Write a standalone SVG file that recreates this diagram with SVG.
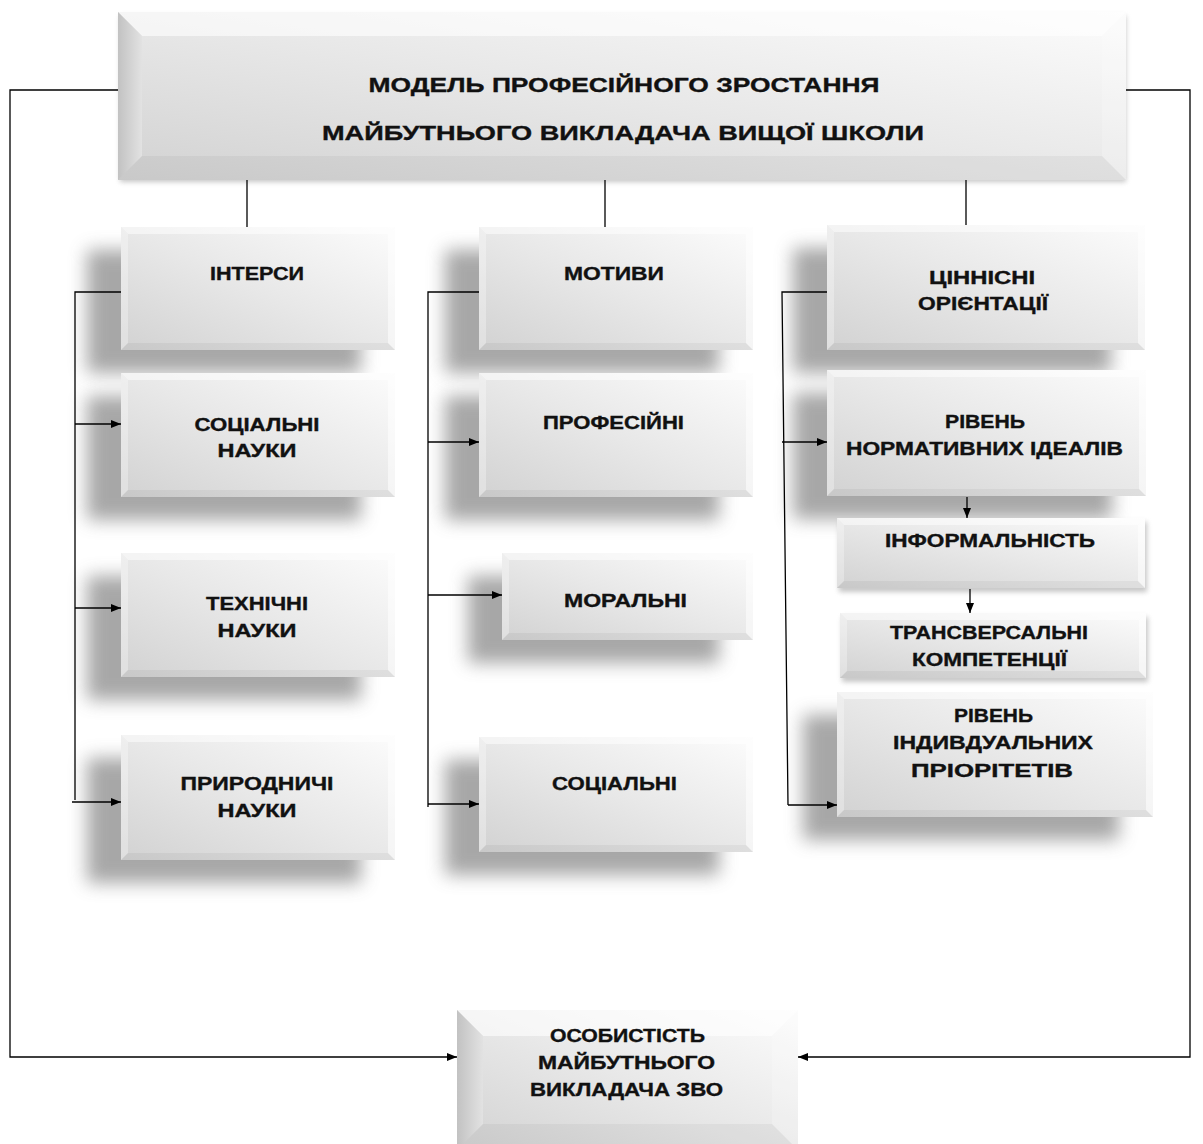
<svg xmlns="http://www.w3.org/2000/svg" width="1203" height="1144" viewBox="0 0 1203 1144">
<defs>
<linearGradient id="gBody" x1="1" y1="0" x2="0" y2="1">
<stop offset="0" stop-color="#fcfcfc"/>
<stop offset="0.5" stop-color="#e8e8e8"/>
<stop offset="1" stop-color="#d2d2d2"/>
</linearGradient>
<linearGradient id="gLeft" x1="0" y1="0" x2="1" y2="0">
<stop offset="0" stop-color="#c2c2c2"/>
<stop offset="1" stop-color="#e2e2e2"/>
</linearGradient>
<filter id="fSh" x="-30%" y="-40%" width="160%" height="180%">
<feGaussianBlur stdDeviation="9"/>
</filter>
<filter id="fSh2" x="-10%" y="-30%" width="120%" height="160%">
<feGaussianBlur stdDeviation="2.5"/>
</filter>
<marker id="arr" markerUnits="userSpaceOnUse" markerWidth="11" markerHeight="9" refX="10" refY="4.5" orient="auto">
<path d="M0,0.5 L10,4.5 L0,8.5 z" fill="#000"/>
</marker>
</defs>
<style>
.sh{fill:#8a8a8a;opacity:.75;filter:url(#fSh)}
.sh2{fill:#999;opacity:.55;filter:url(#fSh2)}
.body{fill:url(#gBody)}
.bt{fill:#fff;opacity:.5}
.bl{fill:#fff;opacity:.3}
.br{fill:#fff;opacity:.55}
.bb{fill:#000;opacity:.045}
.big .bl{fill:url(#gLeft);opacity:1}
.big .br{fill:#fff;opacity:.2}
.big .bt{fill:#fff;opacity:.6}
.big .bb{fill:#000;opacity:.04}
text{font-family:"Liberation Sans",Arial,sans-serif;font-weight:bold;font-size:18px;fill:#111;stroke:#111;stroke-width:0.35;text-anchor:middle}
.tt{font-size:21px}
.con path{fill:none;stroke:#000;stroke-width:1.3}
.con .a{marker-end:url(#arr)}
</style>
<rect width="1203" height="1144" fill="#fff"/>

<g id="shadows">
<rect class="sh2" x="120" y="16" width="1006" height="166"/>
<rect class="sh" x="87" y="250" width="274" height="123"/>
<rect class="sh" x="87" y="396" width="274" height="124"/>
<rect class="sh" x="87" y="576" width="274" height="124"/>
<rect class="sh" x="87" y="758" width="274" height="125"/>
<rect class="sh" x="445" y="250" width="274" height="123"/>
<rect class="sh" x="445" y="396" width="274" height="124"/>
<rect class="sh" x="468" y="576" width="251" height="87"/>
<rect class="sh" x="445" y="760" width="274" height="115"/>
<rect class="sh" x="793" y="248" width="318" height="125"/>
<rect class="sh" x="793" y="393" width="319" height="126"/>
<rect class="sh2" x="839" y="522" width="308" height="70"/>
<rect class="sh2" x="842" y="617" width="306" height="65"/>
<rect class="sh" x="803" y="715" width="316" height="125"/>
</g>

<g id="connectors" class="con">
<path d="M118,90 H10 V1057 H457" class="a"/>
<path d="M1126,90 H1190 V1057 H798" class="a"/>
<path d="M247,180 V227"/>
<path d="M605,180 V227"/>
<path d="M966,180 V225"/>
<path d="M121,292 H75 V800"/>
<path d="M75,424 H121" class="a"/>
<path d="M75,608 H121" class="a"/>
<path d="M72,802 H121" class="a"/>
<path d="M479,292 H428 V807"/>
<path d="M428,442 H479" class="a"/>
<path d="M428,595 H502" class="a"/>
<path d="M428,804 H479" class="a"/>
<path d="M827,292 H782 L788,805"/>
<path d="M782,442 H827" class="a"/>
<path d="M788,805 H837" class="a"/>
<path d="M967,497 V518" class="a"/>
<path d="M970,589 V613" class="a"/>
</g>

<g id="node-model" class="big">
<rect class="body" x="118" y="12" width="1008" height="168"/>
<polygon class="bt" points="118,12 1126,12 1102,36 142,36"/>
<polygon class="bl" points="118,12 142,36 142,156 118,180"/>
<polygon class="bb" points="118,180 142,156 1102,156 1126,180"/>
<polygon class="br" points="1126,12 1126,180 1102,156 1102,36"/>
<text class="tt" x="624" y="92" textLength="511" lengthAdjust="spacingAndGlyphs">МОДЕЛЬ ПРОФЕСІЙНОГО ЗРОСТАННЯ</text>
<text class="tt" x="623" y="140" textLength="602" lengthAdjust="spacingAndGlyphs">МАЙБУТНЬОГО ВИКЛАДАЧА ВИЩОЇ ШКОЛИ</text>
</g>

<g id="node-interesy">
<rect class="body" x="121" y="227" width="274" height="123"/>
<polygon class="bt" points="121,227 395,227 388,234 128,234"/>
<polygon class="bl" points="121,227 128,234 128,343 121,350"/>
<polygon class="bb" points="121,350 128,343 388,343 395,350"/>
<polygon class="br" points="395,227 395,350 388,343 388,234"/>
<text x="257" y="280" textLength="94" lengthAdjust="spacingAndGlyphs">ІНТЕРСИ</text>
</g>

<g id="node-social-sciences">
<rect class="body" x="121" y="373" width="274" height="124"/>
<polygon class="bt" points="121,373 395,373 388,380 128,380"/>
<polygon class="bl" points="121,373 128,380 128,490 121,497"/>
<polygon class="bb" points="121,497 128,490 388,490 395,497"/>
<polygon class="br" points="395,373 395,497 388,490 388,380"/>
<text x="257" y="431" textLength="125" lengthAdjust="spacingAndGlyphs">СОЦІАЛЬНІ</text>
<text x="257" y="457" textLength="79" lengthAdjust="spacingAndGlyphs">НАУКИ</text>
</g>

<g id="node-tech-sciences">
<rect class="body" x="121" y="553" width="274" height="124"/>
<polygon class="bt" points="121,553 395,553 388,560 128,560"/>
<polygon class="bl" points="121,553 128,560 128,670 121,677"/>
<polygon class="bb" points="121,677 128,670 388,670 395,677"/>
<polygon class="br" points="395,553 395,677 388,670 388,560"/>
<text x="257" y="610" textLength="102" lengthAdjust="spacingAndGlyphs">ТЕХНІЧНІ</text>
<text x="257" y="637" textLength="79" lengthAdjust="spacingAndGlyphs">НАУКИ</text>
</g>

<g id="node-natural-sciences">
<rect class="body" x="121" y="735" width="274" height="125"/>
<polygon class="bt" points="121,735 395,735 388,742 128,742"/>
<polygon class="bl" points="121,735 128,742 128,853 121,860"/>
<polygon class="bb" points="121,860 128,853 388,853 395,860"/>
<polygon class="br" points="395,735 395,860 388,853 388,742"/>
<text x="257" y="790" textLength="153" lengthAdjust="spacingAndGlyphs">ПРИРОДНИЧІ</text>
<text x="257" y="817" textLength="79" lengthAdjust="spacingAndGlyphs">НАУКИ</text>
</g>

<g id="node-motyvy">
<rect class="body" x="479" y="227" width="274" height="123"/>
<polygon class="bt" points="479,227 753,227 746,234 486,234"/>
<polygon class="bl" points="479,227 486,234 486,343 479,350"/>
<polygon class="bb" points="479,350 486,343 746,343 753,350"/>
<polygon class="br" points="753,227 753,350 746,343 746,234"/>
<text x="614" y="280" textLength="100" lengthAdjust="spacingAndGlyphs">МОТИВИ</text>
</g>

<g id="node-profesiini">
<rect class="body" x="479" y="373" width="274" height="124"/>
<polygon class="bt" points="479,373 753,373 746,380 486,380"/>
<polygon class="bl" points="479,373 486,380 486,490 479,497"/>
<polygon class="bb" points="479,497 486,490 746,490 753,497"/>
<polygon class="br" points="753,373 753,497 746,490 746,380"/>
<text x="613.5" y="429" textLength="141" lengthAdjust="spacingAndGlyphs">ПРОФЕСІЙНІ</text>
</g>

<g id="node-moralni">
<rect class="body" x="502" y="553" width="251" height="87"/>
<polygon class="bt" points="502,553 753,553 746,560 509,560"/>
<polygon class="bl" points="502,553 509,560 509,633 502,640"/>
<polygon class="bb" points="502,640 509,633 746,633 753,640"/>
<polygon class="br" points="753,553 753,640 746,633 746,560"/>
<text x="625.5" y="607" textLength="123" lengthAdjust="spacingAndGlyphs">МОРАЛЬНІ</text>
</g>

<g id="node-sotsialni">
<rect class="body" x="479" y="737" width="274" height="115"/>
<polygon class="bt" points="479,737 753,737 746,744 486,744"/>
<polygon class="bl" points="479,737 486,744 486,845 479,852"/>
<polygon class="bb" points="479,852 486,845 746,845 753,852"/>
<polygon class="br" points="753,737 753,852 746,845 746,744"/>
<text x="614.5" y="790" textLength="125" lengthAdjust="spacingAndGlyphs">СОЦІАЛЬНІ</text>
</g>

<g id="node-tsinnisni">
<rect class="body" x="827" y="225" width="318" height="125"/>
<polygon class="bt" points="827,225 1145,225 1138,232 834,232"/>
<polygon class="bl" points="827,225 834,232 834,343 827,350"/>
<polygon class="bb" points="827,350 834,343 1138,343 1145,350"/>
<polygon class="br" points="1145,225 1145,350 1138,343 1138,232"/>
<text x="982" y="284" textLength="106" lengthAdjust="spacingAndGlyphs">ЦІННІСНІ</text>
<text x="983" y="310" textLength="130" lengthAdjust="spacingAndGlyphs">ОРІЄНТАЦІЇ</text>
</g>

<g id="node-normatyvni">
<rect class="body" x="827" y="370" width="319" height="126"/>
<polygon class="bt" points="827,370 1146,370 1139,377 834,377"/>
<polygon class="bl" points="827,370 834,377 834,489 827,496"/>
<polygon class="bb" points="827,496 834,489 1139,489 1146,496"/>
<polygon class="br" points="1146,370 1146,496 1139,489 1139,377"/>
<text x="985" y="428" textLength="80" lengthAdjust="spacingAndGlyphs">РІВЕНЬ</text>
<text x="984.5" y="455" textLength="277" lengthAdjust="spacingAndGlyphs">НОРМАТИВНИХ ІДЕАЛІВ</text>
</g>

<g id="node-informalnist">
<rect class="body" x="837" y="518" width="308" height="70"/>
<polygon class="bt" points="837,518 1145,518 1138,525 844,525"/>
<polygon class="bl" points="837,518 844,525 844,581 837,588"/>
<polygon class="bb" points="837,588 844,581 1138,581 1145,588"/>
<polygon class="br" points="1145,518 1145,588 1138,581 1138,525"/>
<text x="990" y="547" textLength="210" lengthAdjust="spacingAndGlyphs">ІНФОРМАЛЬНІСТЬ</text>
</g>

<g id="node-transversalni">
<rect class="body" x="840" y="613" width="306" height="65"/>
<polygon class="bt" points="840,613 1146,613 1139,620 847,620"/>
<polygon class="bl" points="840,613 847,620 847,671 840,678"/>
<polygon class="bb" points="840,678 847,671 1139,671 1146,678"/>
<polygon class="br" points="1146,613 1146,678 1139,671 1139,620"/>
<text x="989" y="639" textLength="198" lengthAdjust="spacingAndGlyphs">ТРАНСВЕРСАЛЬНІ</text>
<text x="989.5" y="666" textLength="155" lengthAdjust="spacingAndGlyphs">КОМПЕТЕНЦІЇ</text>
</g>

<g id="node-individualni">
<rect class="body" x="837" y="692" width="316" height="125"/>
<polygon class="bt" points="837,692 1153,692 1146,699 844,699"/>
<polygon class="bl" points="837,692 844,699 844,810 837,817"/>
<polygon class="bb" points="837,817 844,810 1146,810 1153,817"/>
<polygon class="br" points="1153,692 1153,817 1146,810 1146,699"/>
<text x="993.5" y="722" textLength="79" lengthAdjust="spacingAndGlyphs">РІВЕНЬ</text>
<text x="993" y="749" textLength="200" lengthAdjust="spacingAndGlyphs">ІНДИВДУАЛЬНИХ</text>
<text x="992" y="777" textLength="162" lengthAdjust="spacingAndGlyphs">ПРІОРІТЕТІВ</text>
</g>

<g id="node-osobystist" class="big">
<rect class="body" x="457" y="1010" width="341" height="140"/>
<polygon class="bt" points="457,1010 798,1010 772,1036 483,1036"/>
<polygon class="bl" points="457,1010 483,1036 483,1124 457,1150"/>
<polygon class="bb" points="457,1150 483,1124 772,1124 798,1150"/>
<polygon class="br" points="798,1010 798,1150 772,1124 772,1036"/>
<text x="627.5" y="1042" textLength="155" lengthAdjust="spacingAndGlyphs">ОСОБИСТІСТЬ</text>
<text x="626.5" y="1069" textLength="177" lengthAdjust="spacingAndGlyphs">МАЙБУТНЬОГО</text>
<text x="626.5" y="1096" textLength="193" lengthAdjust="spacingAndGlyphs">ВИКЛАДАЧА ЗВО</text>
</g>
</svg>
